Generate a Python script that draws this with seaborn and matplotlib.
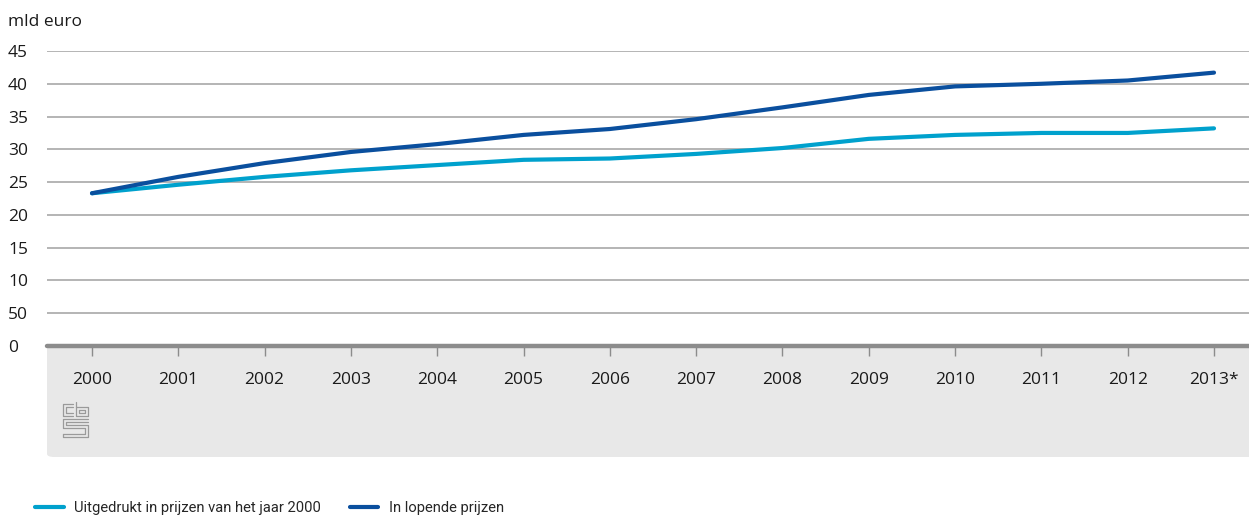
import numpy as np
import pandas as pd
import matplotlib
matplotlib.use("Agg")
import matplotlib.pyplot as plt
from matplotlib.patches import FancyBboxPatch
from matplotlib.lines import Line2D
import seaborn as sns

# chart data
years = ["2000", "2001", "2002", "2003", "2004", "2005", "2006",
         "2007", "2008", "2009", "2010", "2011", "2012", "2013*"]
prijzen_2000 = [23.3, 24.6, 25.8, 26.8, 27.6, 28.4, 28.6,
                29.3, 30.2, 31.6, 32.2, 32.5, 32.5, 33.2]
lopende_prijzen = [23.3, 25.8, 27.9, 29.6, 30.8, 32.2, 33.1,
                   34.6, 36.4, 38.3, 39.6, 40.0, 40.5, 41.7]
series_names = ["Uitgedrukt in prijzen van het jaar 2000", "In lopende prijzen"]
y_ticks = [0, 5, 10, 15, 20, 25, 30, 35, 40, 45]
y_ticklabels = ["0", "50", "10", "15", "20", "25", "30", "35", "40", "45"]

colors = ["#00a1cd", "#0a4f9e"]

W, H = 1249, 517
sns.set_theme(style="white")
plt.rcParams["font.family"] = ["Open Sans", "DejaVu Sans"]

fig = plt.figure(figsize=(W / 100, H / 100), dpi=100)

# grey band below the axis (pixel coordinates -> figure fraction)
band = FancyBboxPatch((47 / W, 1 - 457 / H), (W - 47 + 20) / W, (457 - 346) / H,
                      boxstyle="round,pad=0,rounding_size=0.006",
                      transform=fig.transFigure, facecolor="#e8e8e8",
                      edgecolor="none", zorder=-5)
fig.patches.append(band)

ax = fig.add_axes([47 / W, 1 - 346 / H, 1 - 47 / W, (346 - 51) / H])
ax.set_facecolor("none")

df = pd.DataFrame({
    "x": list(range(len(years))) * 2,
    "waarde": prijzen_2000 + lopende_prijzen,
    "reeks": [series_names[0]] * len(years) + [series_names[1]] * len(years),
})

sns.lineplot(data=df, x="x", y="waarde", hue="reeks", palette=colors,
             linewidth=3, ax=ax, legend=False, zorder=3)

px = 1122 / 13
ax.set_xlim(-45 / px, 13 + 35 / px)
ax.set_ylim(0, 45)

for s in ax.spines.values():
    s.set_visible(False)

# grid lines
for v in y_ticks[1:]:
    ax.axhline(v, color="#a0a0a0", linewidth=1.1, zorder=1)
ax.axhline(0, color="#8c8c8c", linewidth=3.2, zorder=2, clip_on=False)

ax.set_xticks(range(len(years)))
ax.set_xticklabels(years, fontsize=12.5, color="#1a1a1a")
ax.tick_params(axis="x", direction="out", length=7, width=1, color="#8c8c8c",
               pad=12, bottom=True, labelbottom=True)

ax.set_yticks(y_ticks)
ax.set_yticklabels(y_ticklabels, fontsize=12.5, color="#1a1a1a")
ax.tick_params(axis="y", length=0, pad=28)
for lab in ax.get_yticklabels():
    lab.set_horizontalalignment("left")

ax.set_xlabel("")
ax.set_ylabel("")

fig.text(8 / W, 1 - 22 / H, "mld euro", fontsize=12.5, color="#1a1a1a",
         va="center", ha="left")

# small cbs logo drawn with lines (pixel coords)
def seg(xs, ys):
    fig.lines.append(Line2D([x / W for x in xs], [1 - y / H for y in ys],
                            transform=fig.transFigure, color="#9a9a9a",
                            linewidth=0.9, zorder=5))

# "c"
seg([73, 63, 63, 73], [404, 404, 416, 416])
seg([73, 66, 66, 73], [407, 407, 413, 413])
# "b"
seg([76, 76, 88, 88, 76], [402, 416, 416, 407, 407])
seg([79, 85, 85, 79, 79], [410, 410, 413, 413, 410])
# "s"
seg([88, 63, 63, 85, 85, 63], [419, 419, 428, 428, 434, 434])
seg([88, 66, 66, 88, 88, 63, 63], [422, 422, 425, 425, 437, 437, 434])

# legend
handles = [Line2D([0], [0], color=c, linewidth=3) for c in colors]
fig.legend(handles, series_names, loc="center left",
           bbox_to_anchor=(35 / W, 1 - 508 / H), ncol=2, frameon=False,
           prop={"family": ["Roboto", "DejaVu Sans"], "size": 10.6},
           handlelength=1.95, handletextpad=0.7,
           columnspacing=1.95, borderaxespad=0, borderpad=0)

fig.savefig("out.png", dpi=100)
